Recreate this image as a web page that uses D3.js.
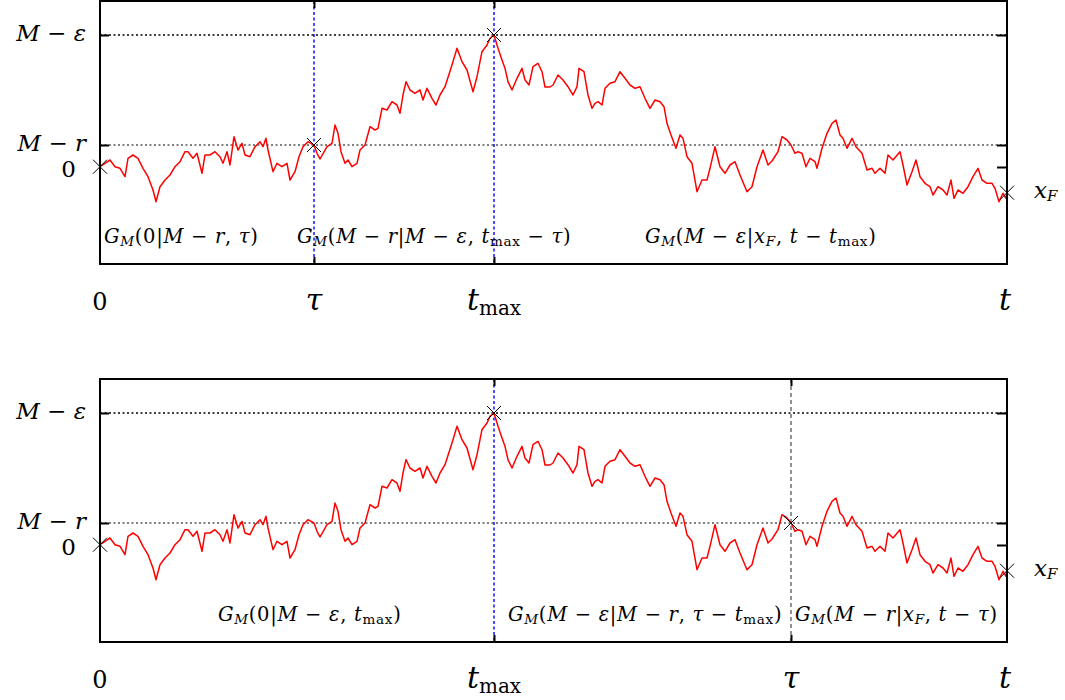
<!DOCTYPE html>
<html lang="en">
<head>
<meta charset="utf-8" />
<title>Path decomposition around the maximum</title>
<script src="https://cdn.jsdelivr.net/npm/d3@7"></script>
<style>
body { margin: 0; background: #fff; }
svg { display: block; }
text { font-family: 'DejaVu Serif', serif; fill: #000; white-space: pre; }
</style>
</head>
<body>
<svg id="chart" width="1065" height="700"></svg>
<script>
// time runs from 0 to T (arbitrary units), position in arbitrary units
var T = 907
var tau = 214        // upper panel: last visit of M-r before the maximum
var tMax = 394
var tau2 = 691       // lower panel: visit of M-r after the maximum
var levelMr = 22     // M - r
var levelMe = 132    // M - epsilon
var xF = -25.7

var pathT = [0, 5, 10, 15, 20, 25, 28, 33, 38, 43, 48, 53, 56, 60, 65, 70, 75, 80, 85, 88,
  93, 97, 102, 105, 110, 115, 120, 123, 127, 130, 134, 138, 142, 145, 150, 155, 160, 163, 166, 168,
  173, 177, 182, 187, 190, 195, 199, 203, 208, 214, 217, 220, 227, 232, 235, 238, 241, 245, 248, 252,
  257, 260, 265, 270, 275, 278, 282, 287, 292, 297, 300, 303, 306, 310, 315, 320, 323, 327, 332, 336,
  340, 345, 352, 357, 362, 367, 373, 377, 382, 387, 390, 394, 398, 402, 405, 408, 412, 417, 422, 425,
  429, 433, 438, 442, 445, 450, 453, 458, 463, 468, 473, 477, 479, 484, 488, 492, 495, 498, 502, 505,
  510, 515, 520, 525, 530, 535, 540, 545, 550, 555, 560, 564, 567, 571, 576, 580, 583, 587, 592, 597,
  602, 607, 610, 615, 620, 625, 630, 635, 640, 647, 652, 657, 663, 668, 672, 678, 682, 687, 691, 695,
  698, 702, 706, 710, 715, 717, 722, 727, 732, 736, 740, 743, 747, 752, 756, 762, 767, 772, 775, 780,
  785, 788, 793, 800, 803, 807, 812, 816, 820, 825, 830, 833, 838, 843, 847, 851, 854, 858, 863, 868,
  873, 878, 882, 887, 892, 895, 899, 903, 906, 907]

var pathX = [0.3, 3.7, 7, 0.3, -1.3, -9.7, 8.7, 12, 8.7, -1.3, -9.7, -23, -34.7, -19.7, -13, -8, 0.3, 5.3, 15.3, 15.3,
  8.7, 13.7, -6.3, 12, 12, 15.3, 10.3, 3.7, 15.3, 2, 30.3, 17, 23.7, 12, 10.3, 20.3, 25.3, 20.3, 28.7, 17,
  -4.7, 3.7, 0.3, 3.7, -13, -4.7, 10.3, 20.3, 25.3, 22, 13.7, 8, 20.3, 23.7, 42, 33.7, 15.3, 3.7, 7, 0.3,
  3.7, 17, 22, 40.3, 37, 38.7, 58.7, 57, 65.3, 62, 53.7, 72, 85.3, 77, 73.7, 77, 67, 78.7, 68.7, 62,
  72, 80.3, 102, 118.7, 105.3, 97, 75.3, 90.3, 115.3, 122, 128.7, 132, 118.7, 107, 98.7, 85.3, 77, 88.7, 98.7, 87,
  82, 100.3, 103.7, 95.3, 80, 80, 82, 92, 87, 80.3, 72, 80.3, 98.7, 95.3, 72, 58.7, 63.7, 65.3, 62, 78.7,
  83.7, 85.3, 95.3, 88.7, 82, 78.7, 80.3, 68.7, 58.7, 67, 65.3, 60.3, 43.7, 32, 18.7, 32, 28.7, 10.3, 3.7, -24.7,
  -13, -13, -1.3, 20.3, 0.3, -6.3, 2, 5.3, -8, -24.7, -19.7, 0.3, 17, 2, 6, 15.3, 30.3, 27, 22, 13.7,
  15.3, 13.7, 0.3, 8.7, 5.3, -1.3, 18.7, 33.7, 43.7, 47, 32, 28.7, 18.7, 28.7, 20.3, 13.7, -3, -1.3, -6.3, -1.3,
  -6.3, 12, 7, 15.3, 2, -18, -4.7, 7, -9.7, -16.3, -19.7, -28, -19.7, -23, -28, -13, -31.3, -23, -26.3, -19.7,
  -9.7, -1.3, -13, -16.3, -16.3, -21.3, -34.7, -26.3, -31.3, -25.7]

var levelLabels = ['M − ε', 'M − r', '0']

var panels = [
  {
    top: 1,
    cross: [[0, pathX[0]], [tau, levelMr], [tMax, levelMe], [T, xF]],
    vlines: [{ t: tau, color: 'blue', dash: '3,2.5', w: 1.4 }, { t: tMax, color: 'blue', dash: '3,2.5', w: 1.4 }],
    xticks: [0, tau, tMax, T],
    xlabels: ['0', 'τ', 't_{max}', 't'],
    notes: [
      { t: 4, s: 'G_{M}(0|M − r, τ)' },
      { t: 197, s: 'G_{M}(M − r|M − ε, t_{max} − τ)' },
      { t: 545, s: 'G_{M}(M − ε|x_{F}, t − t_{max})' }
    ]
  },
  {
    top: 379,
    cross: [[0, pathX[0]], [tMax, levelMe], [tau2, levelMr], [T, xF]],
    vlines: [{ t: tMax, color: 'blue', dash: '3,2.5', w: 1.4 }, { t: tau2, color: '#223', dash: '4,3', w: 1 }],
    xticks: [0, tMax, tau2, T],
    xlabels: ['0', 't_{max}', 'τ', 't'],
    notes: [
      { t: 118, s: 'G_{M}(0|M − ε, t_{max})' },
      { t: 408, s: 'G_{M}(M − ε|M − r, τ − t_{max})' },
      { t: 695, s: 'G_{M}(M − r|x_{F}, t − τ)' }
    ]
  }
]

var w = 907
var h = 263
var svg = d3.select('#chart')

var xScale = d3.scaleLinear().domain([0, T]).range([0, w])
var yScale = d3.scaleLinear().domain([-97, 166]).range([h, 0])

var pathData = pathT.map((t, i) => ({ t: t, v: pathX[i] }))
var line = d3.line().x(d => xScale(d.t)).y(d => yScale(d.v))

// split "G_{M}(0|M − r)" into italic / roman / subscript pieces
function parseMath(str) {
  var parts = []
  var i = 0
  while (i < str.length) {
    if (str[i] === '_' && str[i + 1] === '{') {
      var j = str.indexOf('}', i)
      var s = str.slice(i + 2, j)
      parts.push([s, s === 'max' ? 'sr' : 'si'])
      i = j + 1
    } else {
      var c = str[i]
      var st = /[A-Za-zα-ω]/.test(c) ? 'i' : 'r'
      var last = parts[parts.length - 1]
      if (last && last[1] === st) last[0] += c
      else parts.push([c, st])
      i++
    }
  }
  return parts
}

function mathText(text, str, size, subSize) {
  var shift = 0
  parseMath(str).forEach(p => {
    var sub = p[1].charAt(0) === 's'
    var target = sub ? size * 0.16 : 0
    text.append('tspan')
      .attr('dy', target - shift)
      .attr('font-size', sub ? (subSize || size * 0.7) : size)
      .attr('font-style', p[1].indexOf('i') >= 0 ? 'italic' : 'normal')
      .text(p[0])
    shift = target
  })
}

panels.forEach(p => {
  var g = svg.append('g').attr('transform', `translate(100, ${p.top})`)

  // level lines
  g.append('line')
    .attr('x1', 0).attr('x2', w)
    .attr('y1', yScale(levelMe)).attr('y2', yScale(levelMe))
    .attr('stroke', '#000').attr('stroke-width', 1.5).attr('stroke-dasharray', '2,2.5')
  g.append('line')
    .attr('x1', 0).attr('x2', w)
    .attr('y1', yScale(levelMr)).attr('y2', yScale(levelMr))
    .attr('stroke', '#000').attr('stroke-width', 1).attr('stroke-dasharray', '2,2.5')

  // vertical markers
  p.vlines.forEach(v => {
    g.append('line')
      .attr('x1', xScale(v.t)).attr('x2', xScale(v.t))
      .attr('y1', 0).attr('y2', h)
      .attr('stroke', v.color).attr('stroke-width', v.w).attr('stroke-dasharray', v.dash)
  })

  // the path
  g.append('path')
    .datum(pathData)
    .attr('d', line)
    .attr('fill', 'none')
    .attr('stroke', 'red')
    .attr('stroke-width', 1.5)
    .attr('stroke-linejoin', 'round')

  // crosses
  p.cross.forEach(c => {
    var cx = xScale(c[0]), cy = yScale(c[1]), s = 7
    g.append('path')
      .attr('d', `M${cx - s},${cy - s}L${cx + s},${cy + s}M${cx - s},${cy + s}L${cx + s},${cy - s}`)
      .attr('stroke', '#000').attr('stroke-width', 1).attr('fill', 'none')
  })

  // ticks (inside the frame)
  var ticksL = g.append('g').call(d3.axisRight(yScale).tickValues([levelMe, levelMr]).tickSize(9).tickFormat(''))
  var ticksR = g.append('g').attr('transform', `translate(${w},0)`)
    .call(d3.axisLeft(yScale).tickValues([levelMe, levelMr, 0]).tickSize(10).tickFormat(''))
  var ticksB = g.append('g').attr('transform', `translate(0,${h})`)
    .call(d3.axisTop(xScale).tickValues(p.xticks.slice(1, 3)).tickSize(7).tickFormat(''))
  var ticksT = g.append('g')
    .call(d3.axisBottom(xScale).tickValues(p.xticks.slice(1, 3)).tickSize(7).tickFormat(''))
  ;[ticksL, ticksR, ticksB, ticksT].forEach(a => {
    a.select('.domain').remove()
    a.selectAll('line').attr('stroke', '#000').attr('stroke-width', 2)
  })

  // frame
  g.append('rect')
    .attr('width', w).attr('height', h)
    .attr('fill', 'none').attr('stroke', '#000').attr('stroke-width', 2)

  // level labels
  ;[levelMe, levelMr, 0].forEach((lv, i) => {
    var t = g.append('text')
      .attr('x', i === 2 ? -24 : -14)
      .attr('y', yScale(lv) + (i === 2 ? 10 : 6))
      .attr('text-anchor', 'end')
      .attr('font-size', 23)
    mathText(t, levelLabels[i], 23)
  })

  // x_F label
  var xl = g.append('text')
    .attr('x', w + 27).attr('y', yScale(xF) + 5)
    .attr('font-size', 23)
  mathText(xl, 'x_{F}', 23, 15)

  // time labels under the frame
  p.xticks.forEach((t, i) => {
    var lab = p.xlabels[i]
    var size = lab === '0' ? 24 : 30
    var tx = g.append('text')
      .attr('x', xScale(t) + (lab === 't' ? -2 : 0))
      .attr('y', h + 46)
      .attr('text-anchor', 'middle')
      .attr('font-size', size)
    mathText(tx, lab, size, 20)
  })

  // propagator annotations
  p.notes.forEach(n => {
    var tx = g.append('text')
      .attr('x', xScale(n.t))
      .attr('y', h - 21)
      .attr('font-size', 19.5)
      .attr('letter-spacing', 0.7)
    mathText(tx, n.s, 19.5, 13.5)
  })
})
</script>
</body>
</html>
